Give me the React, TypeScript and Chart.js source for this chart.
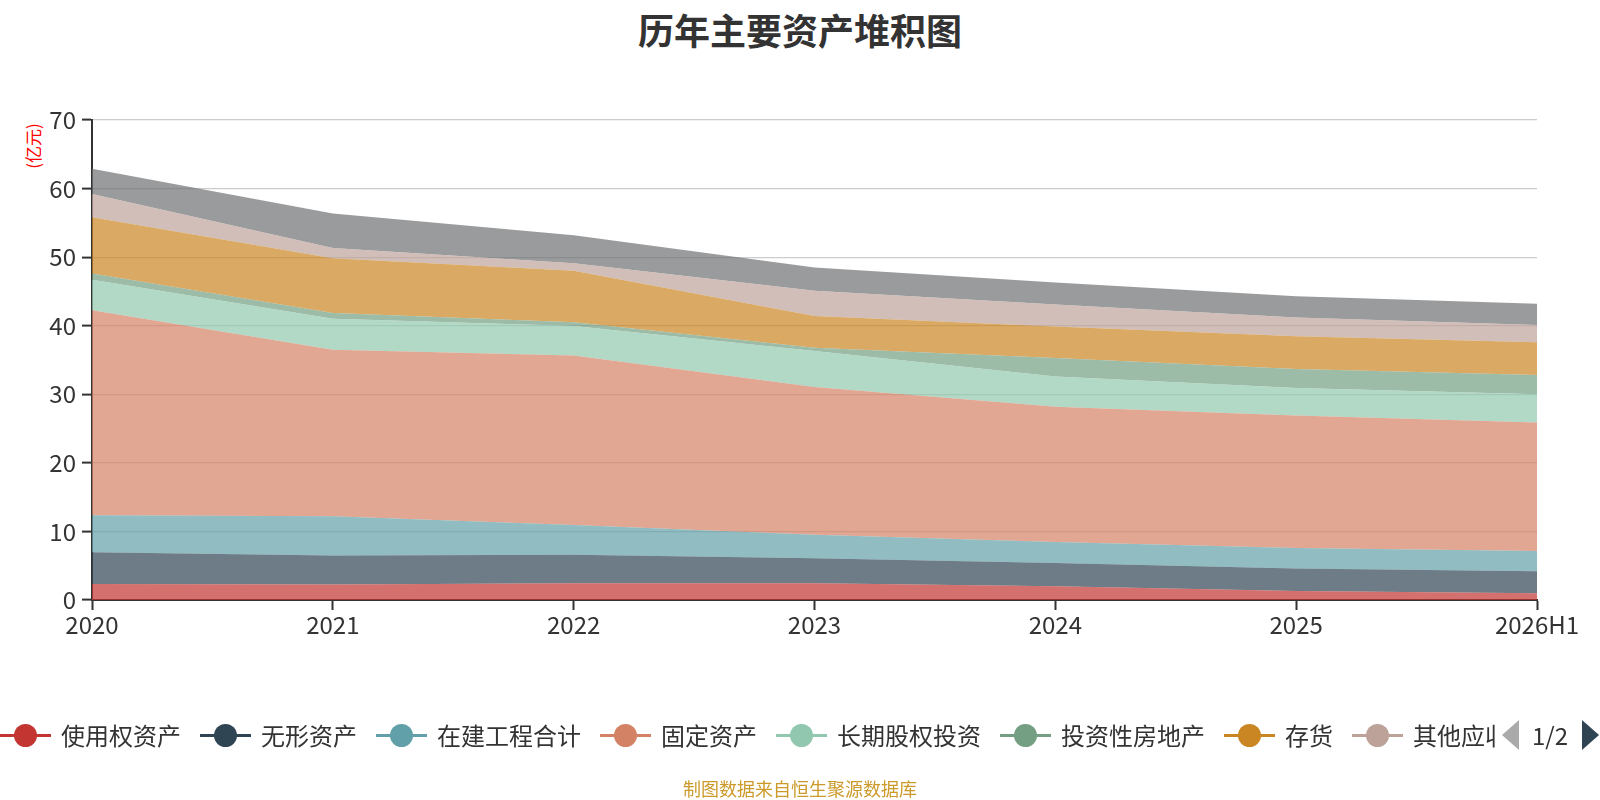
import { useEffect, useRef } from "react";
import { Chart, registerables } from "chart.js";

Chart.register(...registerables);

const categories = ["2020", "2021", "2022", "2023", "2024", "2025", "2026H1"];

const rightOfUse = [2.35, 2.25, 2.45, 2.45, 2.0, 1.3, 1.0];
const intangible = [4.6, 4.25, 4.15, 3.65, 3.4, 3.3, 3.2];
const construction = [5.4, 5.7, 4.35, 3.4, 3.05, 3.0, 2.95];
const fixedAssets = [29.9, 24.3, 24.7, 21.55, 19.75, 19.3, 18.75];
const equityInvest = [4.45, 4.5, 4.3, 5.25, 4.4, 4.0, 4.1];
const investProperty = [0.9, 0.85, 0.55, 0.5, 2.7, 2.8, 2.8];
const inventory = [8.2, 8.0, 7.5, 4.6, 4.6, 4.75, 4.8];
const otherReceivable = [3.4, 1.5, 1.1, 3.7, 3.2, 2.75, 2.5];
const receivable = [3.7, 5.0, 4.1, 3.4, 3.2, 3.1, 3.1];

const seriesNames = ["使用权资产", "无形资产", "在建工程合计", "固定资产", "长期股权投资", "投资性房地产", "存货", "其他应收款", "应收账款"];
const seriesValues = [rightOfUse, intangible, construction, fixedAssets, equityInvest, investProperty, inventory, otherReceivable, receivable];
const seriesColors = ["#c23531", "#2f4554", "#61a0a8", "#d48265", "#91c7ae", "#749f83", "#ca8622", "#bda29a", "#6e7074"];

const yTicks = [0, 10, 20, 30, 40, 50, 60, 70];

const FONT = "'Noto Sans CJK SC', 'Noto Sans', sans-serif";

function withAlpha(hex: string, a: number) {
    const n = parseInt(hex.slice(1), 16);
    return `rgba(${(n >> 16) & 255}, ${(n >> 8) & 255}, ${n & 255}, ${a})`;
}

function StackChart() {
    const canvasRef = useRef<HTMLCanvasElement | null>(null);
    const chartRef = useRef<Chart | null>(null);

    useEffect(() => {
        if (!canvasRef.current) return;

        chartRef.current = new Chart(canvasRef.current, {
            type: "line",
            data: {
                labels: categories,
                datasets: seriesNames.map((name, i) => ({
                    label: name,
                    data: seriesValues[i],
                    backgroundColor: withAlpha(seriesColors[i], 0.7),
                    borderColor: seriesColors[i],
                    borderWidth: 0,
                    pointRadius: 0,
                    tension: 0,
                    fill: i === 0 ? "origin" : "-1",
                })),
            },
            options: {
                responsive: false,
                animation: false,
                layout: { padding: { top: 120, right: 63, bottom: 0, left: 0 } },
                plugins: {
                    legend: { display: false },
                    tooltip: { enabled: false },
                },
                scales: {
                    x: {
                        type: "category",
                        offset: false,
                        grid: { drawOnChartArea: false, tickLength: 10, tickColor: "#333", tickWidth: 2 },
                        border: { color: "#333", width: 2 },
                        ticks: { color: "#333", font: { family: FONT, size: 24 }, padding: 0, maxRotation: 0, autoSkip: false },
                        afterFit: (s: any) => { s.height = 200; },
                    },
                    y: {
                        stacked: true,
                        min: yTicks[0],
                        max: yTicks[yTicks.length - 1],
                        afterBuildTicks: (s: any) => { s.ticks = yTicks.map((v) => ({ value: v })); },
                        grid: { color: "#cccccc", lineWidth: 1.2, tickLength: 10, tickColor: "#333", tickWidth: 2 },
                        border: { color: "#333", width: 2 },
                        ticks: { color: "#333", font: { family: FONT, size: 24 }, padding: 6 },
                        afterFit: (s: any) => { s.width = 92; },
                    },
                },
            },
        });

        return () => {
            chartRef.current?.destroy();
            chartRef.current = null;
        };
    }, []);

    return <canvas ref={canvasRef} width={1600} height={800} style={{ position: "absolute", left: 0, top: 0 }} />;
}

function Legend() {
    return (
        <div style={{ position: "absolute", top: 719, left: 0, height: 32, width: 1600 }}>
            <div style={{ position: "absolute", left: 0, top: 0, height: 32, width: 1495, overflow: "hidden", whiteSpace: "nowrap", display: "flex", alignItems: "center" }}>
                {seriesNames.map((name, i) => (
                    <div key={name} style={{ display: "flex", alignItems: "center", marginRight: 19, flexShrink: 0 }}>
                        <div style={{ position: "relative", width: 51, height: 24 }}>
                            <div style={{ position: "absolute", left: 0, top: 11, width: 51, height: 3, background: seriesColors[i] }} />
                            <div style={{ position: "absolute", left: 14, top: 0.5, width: 23, height: 23, borderRadius: "50%", background: seriesColors[i] }} />
                        </div>
                        <span style={{ marginLeft: 10, fontSize: 24, lineHeight: "32px", color: "#333", fontFamily: FONT }}>{name}</span>
                    </div>
                ))}
            </div>
            <div style={{ position: "absolute", left: 1502, top: 1, width: 0, height: 0, borderTop: "15px solid transparent", borderBottom: "15px solid transparent", borderRight: "17px solid #aaaaaa" }} />
            <span style={{ position: "absolute", left: 1532, top: 0, fontSize: 24, lineHeight: "32px", color: "#333", fontFamily: FONT }}>1/2</span>
            <div style={{ position: "absolute", left: 1582, top: 1, width: 0, height: 0, borderTop: "15px solid transparent", borderBottom: "15px solid transparent", borderLeft: "17px solid #2f4554" }} />
        </div>
    );
}

export default function App() {
    useEffect(() => {
        document.body.style.margin = "0";
    }, []);

    return (
        <div style={{ position: "relative", width: 1600, height: 800, overflow: "hidden", background: "#fff", fontFamily: FONT }}>
            <div style={{ position: "absolute", left: 0, top: 3, width: 1600, textAlign: "center", fontSize: 36, fontWeight: "bold", color: "#333" }}>
                历年主要资产堆积图
            </div>
            <div style={{ position: "absolute", left: 32, top: 146, transform: "translate(-50%, -50%) rotate(-90deg)", fontSize: 17, color: "#ff0000", whiteSpace: "nowrap" }}>
                (亿元)
            </div>
            <StackChart />
            <Legend />
            <div style={{ position: "absolute", left: 0, top: 776, width: 1600, textAlign: "center", fontSize: 18, lineHeight: "24px", color: "#cc9a2a" }}>
                制图数据来自恒生聚源数据库
            </div>
        </div>
    );
}
